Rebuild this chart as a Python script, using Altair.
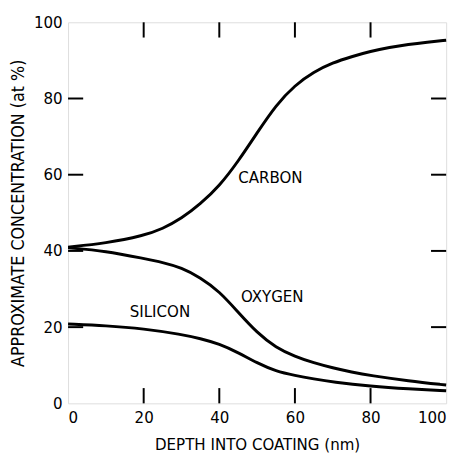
import altair as alt
import pandas as pd

# Data
carbon_x = [0, 10, 20, 25, 30, 35, 40, 45, 50, 55, 60, 65, 70, 75, 80, 85, 90, 95, 100]
carbon_y = [41, 42, 44, 45.8, 48.5, 52.3, 57, 63.5, 71, 78.3, 83.5, 87, 89.4, 91, 92.4, 93.4, 94.2, 94.8, 95.3]

oxygen_x = [0, 10, 20, 25, 30, 35, 40, 45, 50, 55, 60, 65, 70, 75, 80, 90, 100]
oxygen_y = [40.8, 40, 38, 37, 35.6, 33, 29.4, 23.9, 18.5, 14.6, 12.3, 10.6, 9.3, 8.2, 7.3, 5.9, 4.8]

silicon_x = [0, 10, 20, 30, 35, 40, 45, 50, 55, 60, 65, 70, 80, 90, 100]
silicon_y = [20.8, 20.4, 19.6, 18.1, 17, 15.6, 13.3, 10.6, 8.4, 7.3, 6.4, 5.6, 4.5, 3.8, 3.3]

label_text = ["CARBON", "OXYGEN", "SILICON"]
label_x = [53.5, 54, 24.3]
label_y = [59, 28, 24]

tick_values = [20, 40, 60, 80]
axis_values = [0, 20, 40, 60, 80, 100]
tick_len = 4

FONT = "DejaVu Sans Condensed, Liberation Sans, sans-serif"

rows = []
for name, xs, ys in [("Carbon", carbon_x, carbon_y), ("Oxygen", oxygen_x, oxygen_y), ("Silicon", silicon_x, silicon_y)]:
    for a, b in zip(xs, ys):
        rows.append({"series": name, "x": a, "y": b})
df = pd.DataFrame(rows)

labels = pd.DataFrame({"text": label_text, "x": label_x, "y": label_y})

tick_rows = []
for v in tick_values:
    tick_rows.append({"x": 0, "x2": tick_len, "y": v, "y2": v})
    tick_rows.append({"x": 100 - tick_len, "x2": 100, "y": v, "y2": v})
    tick_rows.append({"x": v, "x2": v, "y": 0, "y2": tick_len})
    tick_rows.append({"x": v, "x2": v, "y": 100 - tick_len, "y2": 100})
ticks = pd.DataFrame(tick_rows)

xscale = alt.Scale(domain=[0, 100], nice=False, zero=False)
yscale = alt.Scale(domain=[0, 100], nice=False, zero=False)

xaxis = alt.Axis(values=axis_values, title="DEPTH INTO COATING (nm)", tickSize=0,
                 domain=False, grid=False, labelPadding=6, titlePadding=12,
                 labelFont=FONT, labelFontSize=17, titleFont=FONT, titleFontSize=17,
                 titleFontWeight="normal", labelColor="black", titleColor="black")
yaxis = alt.Axis(values=axis_values, title="APPROXIMATE CONCENTRATION (at %)", tickSize=0,
                 domain=False, grid=False, labelPadding=6,
                 titleX=-41, titleY=193.5,
                 labelFont=FONT, labelFontSize=17, titleFont=FONT, titleFontSize=18,
                 titleFontWeight="normal", labelColor="black", titleColor="black")

lines = alt.Chart(df).mark_line(color="black", strokeWidth=3, interpolate="basis").encode(
    x=alt.X("x:Q", scale=xscale, axis=xaxis),
    y=alt.Y("y:Q", scale=yscale, axis=yaxis),
    detail="series:N",
)

tick_layer = alt.Chart(ticks).mark_rule(color="black", strokeWidth=2).encode(
    x=alt.X("x:Q", scale=xscale),
    x2="x2:Q",
    y=alt.Y("y:Q", scale=yscale),
    y2="y2:Q",
)

text_layer = alt.Chart(labels).mark_text(font=FONT, fontSize=17, color="black").encode(
    x=alt.X("x:Q", scale=xscale),
    y=alt.Y("y:Q", scale=yscale),
    text="text:N",
)

chart = alt.layer(lines, tick_layer, text_layer).properties(
    width=384, height=387,
    autosize=alt.AutoSizeParams(type="none"),
    padding={"left": 61, "top": 11, "right": 10, "bottom": 52},
).configure_view(stroke="black", strokeWidth=2).configure(background="white")

chart.save("out.html", embed_options={"renderer": "svg", "actions": False})
